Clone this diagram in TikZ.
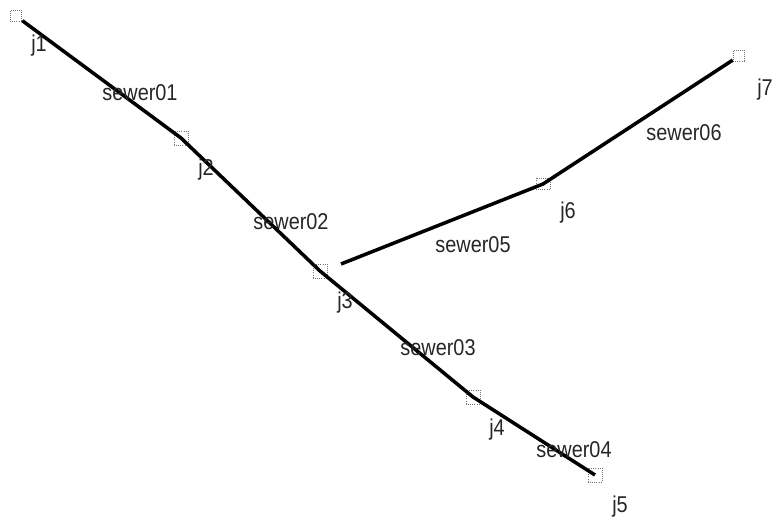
\documentclass[tikz,border=0pt]{standalone}
\usepackage{fontspec}
\setmainfont[FakeStretch=0.87]{Liberation Sans}
\usepackage{xcolor}
\definecolor{junctiongray}{rgb}{0.45, 0.45, 0.45}
\tikzset{
  junction/.style={draw=junctiongray, densely dotted, thick, inner sep=0pt, minimum size=12pt},
  sewer/.style={line width=3pt, black},
  lbl/.style={font=\fontsize{19.5}{21}\selectfont, text=black!85, inner sep=0pt}
}

\begin{document}
\begin{tikzpicture}[x=0.03cm, y=-0.03cm]
  \useasboundingbox (0, 0) rectangle (777, 520);
  % Junctions
  \node[junction, minimum size=10pt] (j1) at (16, 16) {};
  \node[junction] (j2) at (181, 138) {};
  \node[junction] (j3) at (320, 271) {};
  \node[junction] (j4) at (473, 397) {};
  \node[junction] (j5) at (595, 475) {};
  \node[junction, minimum height=10pt] (j6) at (543, 184) {};
  \node[junction, minimum size=10pt] (j7) at (739, 56) {};
  \coordinate (branch) at (341, 264);
  % Sewers
  \draw[sewer] (j1) -- (j2.center) -- (j3.center) -- (j4.center) -- (j5.center);
  \draw[sewer] (branch) -- (j6.center) -- (j7);
  % Junction labels
  \node[lbl] (lj1) at (39, 46) {j1};
  \node[lbl] (lj2) at (206, 170) {j2};
  \node[lbl] (lj3) at (345, 303) {j3};
  \node[lbl] (lj4) at (497, 430) {j4};
  \node[lbl] (lj5) at (620, 507) {j5};
  \node[lbl] (lj6) at (568, 213) {j6};
  \node[lbl] (lj7) at (765, 90) {j7};
  % Sewer labels
  \node[lbl] (s1) at (140, 93) {sewer01};
  \node[lbl] (s2) at (291, 222) {sewer02};
  \node[lbl] (s3) at (438, 348) {sewer03};
  \node[lbl] (s4) at (574, 450) {sewer04};
  \node[lbl] (s5) at (473, 245) {sewer05};
  \node[lbl] (s6) at (684, 133) {sewer06};
\end{tikzpicture}
\end{document}
